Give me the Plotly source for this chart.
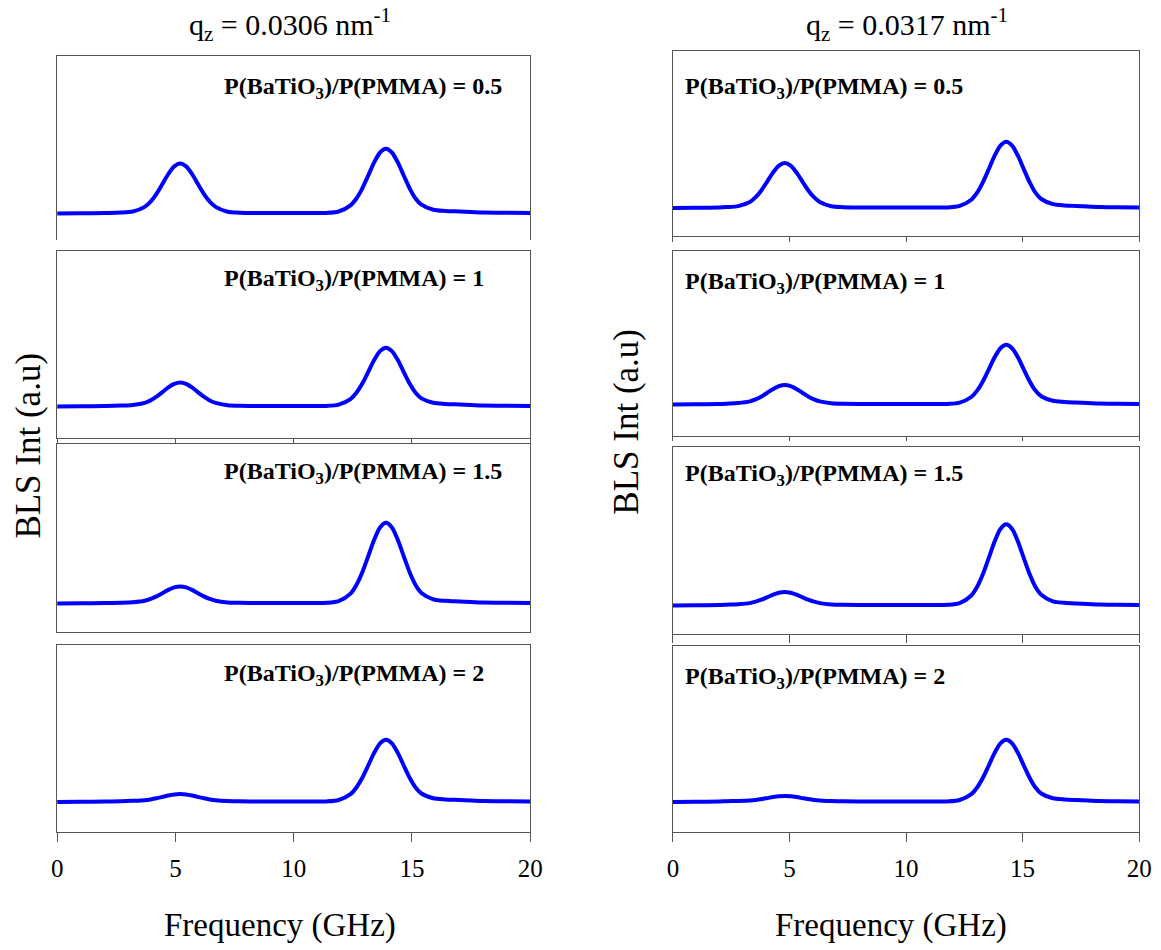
import plotly.graph_objects as go

# ---------------- data ----------------
freq_left = [0, 1, 2, 2.7, 3.2, 3.7, 3.95, 4.2, 4.45, 4.7, 4.95, 5.2, 5.45, 5.7, 5.95, 6.2, 6.45, 6.7,
             7.2, 7.7, 8.5, 9.5, 10.5, 11.4, 11.9, 12.4, 12.65, 12.9, 13.15, 13.4, 13.65, 13.9, 14.15,
             14.4, 14.65, 14.9, 15.15, 15.4, 15.9, 16.4, 17, 17.5, 18, 19, 20]
freq_right = [0, 1, 2, 2.3, 2.8, 3.3, 3.55, 3.8, 4.05, 4.3, 4.55, 4.8, 5.05, 5.3, 5.55, 5.8, 6.05, 6.3,
              6.8, 7.3, 8.5, 9.5, 10.5, 11.8, 12.3, 12.8, 13.05, 13.3, 13.55, 13.8, 14.05, 14.3, 14.55,
              14.8, 15.05, 15.3, 15.55, 15.8, 16.3, 16.8, 17.3, 17.8, 18.3, 19, 20]

# q_z = 0.0306 nm^-1
int_L_05 = [26.5, 26.7, 27, 27.4, 28.5, 33.1, 38.4, 46.2, 56.0, 66.0, 73.6, 76.5, 73.6, 66.0, 56.0, 46.2,
            38.4, 33.1, 28.3, 27.3, 27, 27, 27, 27.1, 28.5, 34.6, 41.5, 51.7, 64.5, 77.6, 87.5, 91.3,
            87.5, 77.6, 64.5, 51.7, 41.5, 35.3, 30.3, 29.1, 28.5, 28, 27.5, 27.2, 27]
int_L_1 = [31.5, 31.7, 32, 32.4, 33.0, 35.1, 37.6, 41.3, 45.9, 50.6, 54.1, 55.5, 54.1, 50.6, 45.9, 41.3,
           37.6, 35.1, 32.8, 32.3, 32, 32, 32, 32.1, 33.4, 38.9, 45.2, 54.4, 66.0, 77.9, 86.9, 90.3,
           86.9, 77.9, 66.0, 54.4, 45.2, 39.6, 35.2, 34.1, 33.5, 33, 32.5, 32.2, 32]
int_L_15 = [28.5, 28.7, 29, 29.3, 29.8, 31.3, 33.1, 35.6, 38.8, 42.1, 44.6, 45.5, 44.6, 42.1, 38.8, 35.6,
            33.1, 31.3, 29.6, 29.2, 29, 29, 29, 29.2, 30.9, 38.4, 47.1, 59.8, 75.8, 92.2, 104.6, 109.3,
            104.6, 92.2, 75.8, 59.8, 47.1, 39.1, 32.7, 31.2, 30.5, 30, 29.5, 29.2, 29]
int_L_2 = [30, 30.2, 30.5, 30.8, 31.2, 31.8, 32.6, 33.7, 35.1, 36.5, 37.6, 38, 37.6, 36.5, 35.1, 33.7,
           32.6, 31.8, 31.0, 30.7, 30.5, 30.5, 30.5, 30.6, 32.0, 37.8, 44.5, 54.2, 66.5, 79.1, 88.7, 92.3,
           88.7, 79.1, 66.5, 54.2, 44.5, 38.5, 33.8, 32.6, 32, 31.5, 31, 30.7, 30.5]

# q_z = 0.0317 nm^-1
int_R_05 = [28, 28.2, 28.5, 28.9, 29.9, 34.0, 38.8, 45.8, 54.6, 63.6, 70.4, 73, 70.4, 63.6, 54.6, 45.8,
            38.8, 34.0, 29.7, 28.8, 28.5, 28.5, 28.5, 28.6, 30.1, 36.3, 43.3, 53.8, 66.9, 80.3, 90.4, 94.3,
            90.4, 80.3, 66.9, 53.8, 43.3, 37.0, 31.9, 30.6, 30, 29.5, 29, 28.7, 28.5]
int_R_1 = [31.5, 31.7, 32, 32.3, 32.9, 34.6, 36.6, 39.6, 43.3, 47.0, 49.9, 51, 49.9, 47.0, 43.3, 39.6,
           36.6, 34.6, 32.7, 32.2, 32, 32, 32, 32.1, 33.4, 39.0, 45.4, 54.8, 66.6, 78.7, 87.8, 91.3,
           87.8, 78.7, 66.6, 54.8, 45.4, 39.7, 35.2, 34.1, 33.5, 33, 32.5, 32.2, 32]
int_R_15 = [28.5, 28.7, 29, 29.3, 29.8, 30.9, 32.3, 34.3, 36.8, 39.3, 41.3, 42, 41.3, 39.3, 36.8, 34.3,
            32.3, 30.9, 29.6, 29.2, 29, 29, 29, 29.2, 30.9, 38.5, 47.2, 60.0, 76.1, 92.6, 105.1, 109.8,
            105.1, 92.6, 76.1, 60.0, 47.2, 39.2, 32.7, 31.2, 30.5, 30, 29.5, 29.2, 29]
int_R_2 = [30, 30.2, 30.5, 30.8, 31.1, 31.6, 32.1, 32.9, 33.9, 34.9, 35.7, 36, 35.7, 34.9, 33.9, 32.9,
           32.1, 31.6, 30.9, 30.7, 30.5, 30.5, 30.5, 30.6, 32.0, 37.8, 44.5, 54.2, 66.5, 79.1, 88.7, 92.3,
           88.7, 79.1, 66.5, 54.2, 44.5, 38.5, 33.8, 32.6, 32, 31.5, 31, 30.7, 30.5]

ratio_labels = ["0.5", "1", "1.5", "2"]
q_titles = ["q<sub>z</sub> = 0.0306 nm<sup>-1</sup>", "q<sub>z</sub> = 0.0317 nm<sup>-1</sup>"]
x_ticks = [0, 5, 10, 15, 20]
x_title = "Frequency (GHz)"
y_title = "BLS Int (a.u)"

# ---------------- layout geometry (pixels) ----------------
W, H = 1161, 950
col_x = [(52, 533), (678, 1152)]
rows_left = [(56, 240), (251, 438), (444, 632), (645, 832)]
rows_right = [(51, 236), (251, 436), (447, 634), (646, 832)]
# tick length per panel ; 0 -> no bottom ticks ; None -> no bottom line
tick_left = [None, 4, 0, 9]
tick_right = [5, 4, 8, 9]

FONT = "Liberation Serif"
FRAME = "#555555"

def px_x(p):
    return p / W

def px_y(p):
    return 1 - p / H

fig = go.Figure()
layout = {}
series = [(freq_left, [int_L_05, int_L_1, int_L_15, int_L_2], col_x[0], rows_left, tick_left),
          (freq_right, [int_R_05, int_R_1, int_R_15, int_R_2], col_x[1], rows_right, tick_right)]

n = 0
for ci, (fx, ints, (x0, x1), rows, ticks) in enumerate(series):
    for ri, yv in enumerate(ints):
        n += 1
        sfx = "" if n == 1 else str(n)
        top, bot = rows[ri]
        fig.add_trace(go.Scatter(x=fx, y=yv, mode="lines",
                                 line=dict(color="#0000FF", width=4, shape="spline", smoothing=0.8),
                                 xaxis="x" + sfx, yaxis="y" + sfx, showlegend=False,
                                 hoverinfo="skip"))
        tl = ticks[ri]
        last = (ri == 3)
        xa = dict(domain=[px_x(x0), px_x(x1)], range=[0, 20], anchor="y" + sfx,
                  showgrid=False, zeroline=False, tickvals=x_ticks,
                  showticklabels=last, tickfont=dict(family=FONT, size=25, color="black"),
                  linecolor=FRAME, linewidth=1.3, tickcolor=FRAME, tickwidth=1.2)
        if tl is None:
            xa.update(side="top", showline=True, mirror=False, ticks="")
        else:
            xa.update(side="bottom", showline=True, mirror=True,
                      ticks="outside" if tl > 0 else "", ticklen=tl)
            if last:
                xa.update(ticklabelstandoff=5)
        ya = dict(domain=[px_y(bot), px_y(top)], range=[0, bot - top], anchor="x" + sfx,
                  showgrid=False, zeroline=False, showticklabels=False, ticks="",
                  showline=True, mirror=True, linecolor=FRAME, linewidth=1.3)
        layout["xaxis" + sfx] = xa
        layout["yaxis" + sfx] = ya

annotations = []
# ratio labels
ann_x = [220, 688]
ann_y = [[88, 280, 473, 675], [88, 283, 475, 678]]
for ci in range(2):
    for ri, lab in enumerate(ratio_labels):
        annotations.append(dict(text="<b>P(BaTiO<sub>3</sub>)/P(PMMA) = " + lab + "</b>",
                                x=px_x(ann_x[ci]), y=px_y(ann_y[ci][ri]), xref="paper", yref="paper",
                                xanchor="left", yanchor="middle", showarrow=False,
                                font=dict(family=FONT, size=24, color="black")))
# column titles
for cx, t in zip([289, 916], q_titles):
    annotations.append(dict(text=t, x=px_x(cx), y=px_y(24), xref="paper", yref="paper",
                            xanchor="center", yanchor="middle", showarrow=False,
                            font=dict(family=FONT, size=30, color="black")))
# x titles
for cx in [279, 900]:
    annotations.append(dict(text=x_title, x=px_x(cx), y=px_y(925), xref="paper", yref="paper",
                            xanchor="center", yanchor="middle", showarrow=False,
                            font=dict(family=FONT, size=33, color="black")))
# y titles
for cx, cy in [(23, 446), (630, 422)]:
    annotations.append(dict(text=y_title, x=px_x(cx), y=px_y(cy), xref="paper", yref="paper",
                            xanchor="center", yanchor="middle", showarrow=False, textangle=-90,
                            font=dict(family=FONT, size=35, color="black")))

fig.update_layout(width=W, height=H, margin=dict(l=0, r=0, t=0, b=0), autosize=False,
                  paper_bgcolor="white", plot_bgcolor="white",
                  font=dict(family=FONT, color="black"),
                  annotations=annotations, **layout)

fig.write_html("out.html",
               config={"displayModeBar": False, "responsive": False},
               post_script="document.documentElement.style.overflow='hidden';"
                           "document.body.style.overflow='hidden';"
                           "document.body.style.margin='0';")
